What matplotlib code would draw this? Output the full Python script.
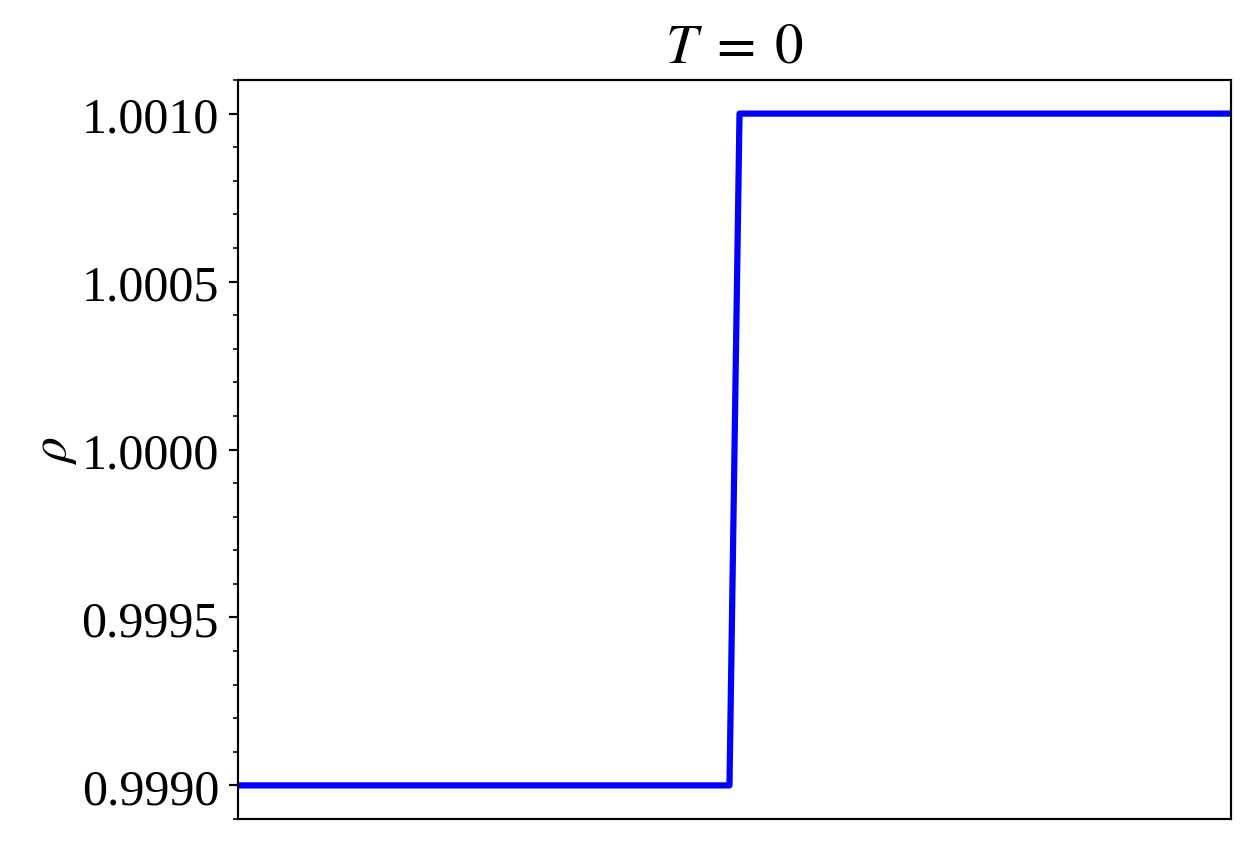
import matplotlib
matplotlib.use("Agg")
import matplotlib.pyplot as plt
from matplotlib.ticker import AutoMinorLocator, FormatStrFormatter

plt.rcParams['font.family'] = ['Liberation Serif', 'DejaVu Serif']
plt.rcParams['mathtext.fontset'] = 'stix'

# data
x = [0.005, 0.495, 0.505, 0.995]
rho = [0.999, 0.999, 1.001, 1.001]
yticks = [0.9990, 0.9995, 1.0000, 1.0005, 1.0010]
title = r"$T\;=\;0$"

W, H, DPI = 1251, 849, 195
fig = plt.figure(figsize=(W / DPI, H / DPI), dpi=DPI)
ax = fig.add_axes([238 / W, 1 - 820 / H, (1231 - 238) / W, (820 - 81) / H])

ax.plot(x, rho, color='blue', lw=2.3)
ax.set_xlim(x[0], x[-1])
ax.set_ylim(0.9989, 1.0011)
ax.set_xticks([])
ax.set_yticks(yticks)
ax.yaxis.set_major_formatter(FormatStrFormatter('%.4f'))
ax.yaxis.set_minor_locator(AutoMinorLocator(5))
ax.tick_params(axis='y', which='major', labelsize=18.5, length=3.5, width=0.8)
ax.tick_params(axis='y', which='minor', length=2, width=0.6)
ax.set_ylabel(r"$\rho$", fontsize=19, labelpad=1)
ax.set_title(title, fontsize=21, pad=7)

fig.savefig("out.png", dpi=DPI)
